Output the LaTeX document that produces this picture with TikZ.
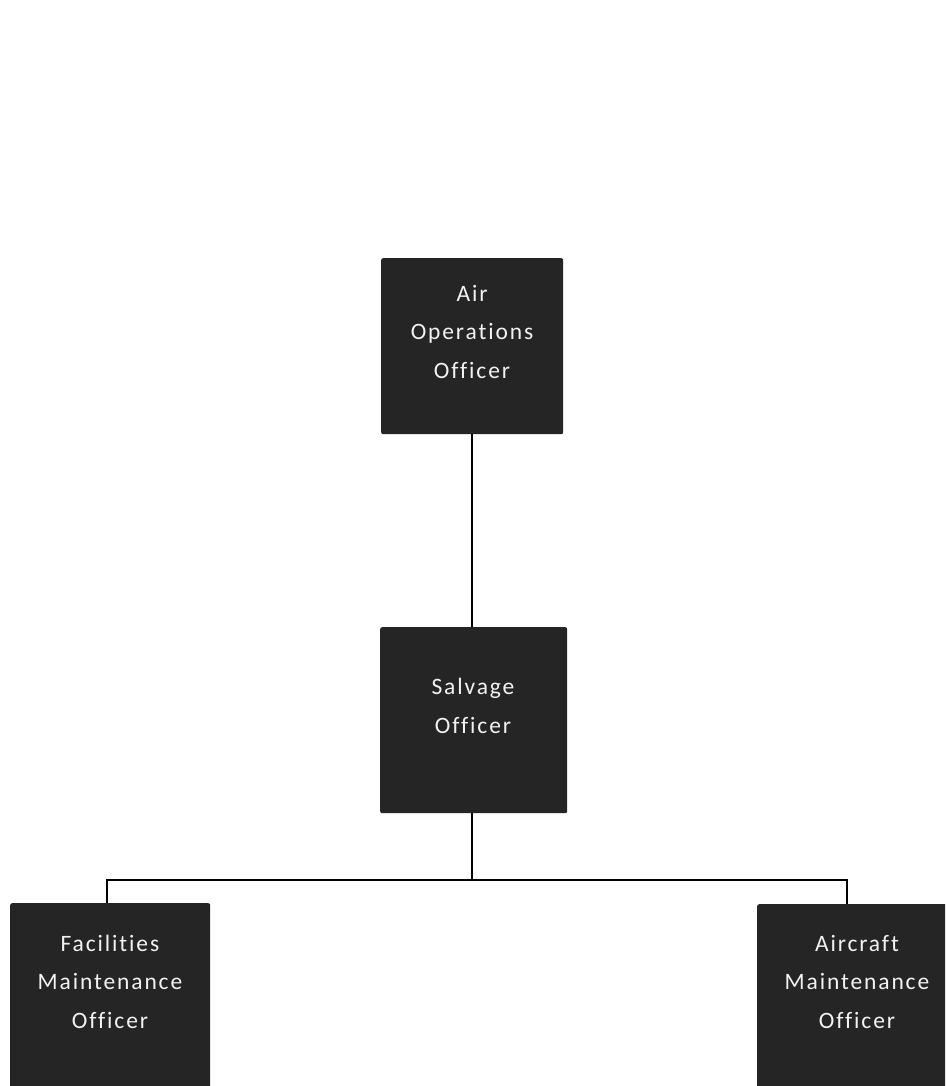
\documentclass[tikz,border=0pt]{standalone}
\usepackage{fontspec}
\setmainfont{Carlito}[LetterSpace=8,Ligatures=NoCommon]
\definecolor{boxfill}{HTML}{252525}
\definecolor{boxtext}{HTML}{F2F2F2}
\begin{document}
\begin{tikzpicture}[x=1pt,y=-1pt,
  orgbox/.style={draw=none,fill=boxfill,rounded corners=2pt,anchor=north west,inner sep=0pt},
  orgtext/.style={text=boxtext,align=center,anchor=base,inner sep=0pt,
    font=\fontsize{23.5}{38.5}\selectfont},
  link/.style={draw=black,line width=1.2pt}]
\useasboundingbox (0,0) rectangle (945,1086);
\clip (0,0) rectangle (945,1086);
\node[orgbox,minimum width=182pt,minimum height=176pt] (air) at (381,258) {};
\node[orgbox,minimum width=187pt,minimum height=186pt] (salv) at (380,627) {};
\node[orgbox,minimum width=200pt,minimum height=200pt] (fac) at (10,903) {};
\node[orgbox,minimum width=200pt,minimum height=200pt] (acm) at (757,904) {};
\node[orgtext] (airt) at (472,378) {Air\\Operations\\Officer};
\node[orgtext] (salvt) at (473,733) {Salvage\\Officer};
\node[orgtext] (fact) at (110,1028) {Facilities\\Maintenance\\Officer};
\node[orgtext] (acmt) at (857,1028) {Aircraft\\Maintenance\\Officer};
\coordinate (j) at (472,880);
\coordinate (facin) at (107,903);
\coordinate (acmin) at (847,904);
\draw[link] (472,434) coordinate (airout) -- (472,627) coordinate (salvin);
\draw[link] (472,813) coordinate (salvout) -- (j);
\draw[link] (j) -| (facin);
\draw[link] (j) -| (acmin);
\end{tikzpicture}
\end{document}
